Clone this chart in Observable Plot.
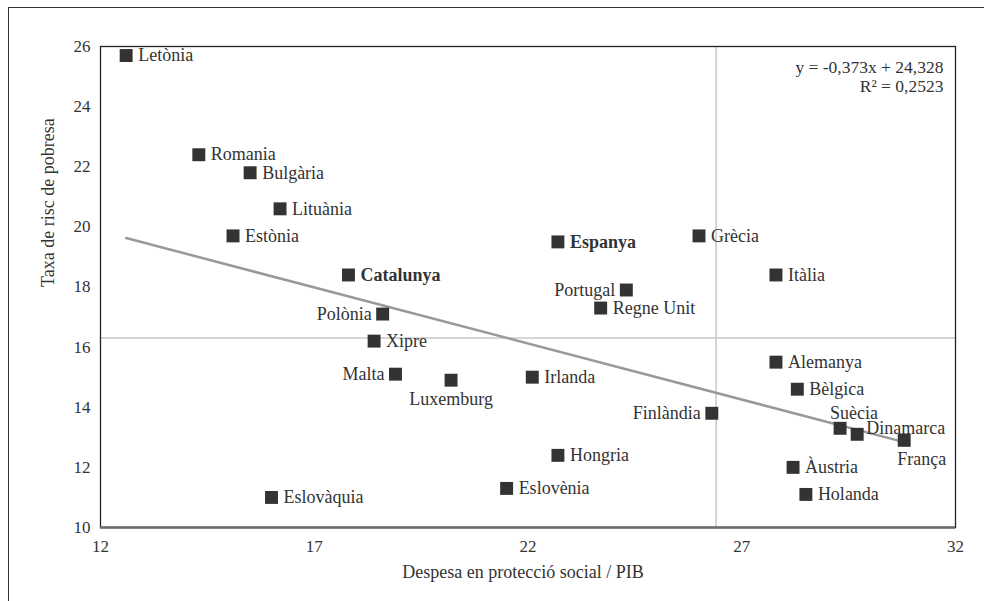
<!DOCTYPE html>
<html>
<head>
<meta charset="utf-8">
<script src="https://cdn.jsdelivr.net/npm/d3@7"></script>
<script src="https://cdn.jsdelivr.net/npm/@observablehq/plot@0.6"></script>
<style>
  html, body { margin: 0; padding: 0; background: #fff; overflow: hidden; }
  #wrap { position: relative; width: 984px; height: 601px; font-family: "Liberation Serif", serif; }
  #wrap svg, #wrap svg text, #wrap svg tspan { font-family: "Liberation Serif", serif !important; }
  #border { position: absolute; left: 8px; top: 7px; width: 2000px; height: 2000px;
            border-top: 1.5px solid #333; border-left: 1.5px solid #333; pointer-events: none; }
</style>
</head>
<body>
<div id="wrap"><div id="border"></div></div>
<script>
// ---- data ----
const countries = ["Letònia","Romania","Bulgària","Lituània","Estònia","Catalunya","Polònia","Xipre","Malta","Luxemburg","Irlanda","Espanya","Portugal","Regne Unit","Grècia","Itàlia","Alemanya","Bèlgica","Finlàndia","Suècia","Dinamarca","França","Àustria","Holanda","Hongria","Eslovènia","Eslovàquia"];
const spending  = [12.6, 14.3, 15.5, 16.2, 15.1, 17.8, 18.6, 18.4, 18.9, 20.2, 22.1, 22.7, 24.3, 23.7, 26.0, 27.8, 27.8, 28.3, 26.3, 29.3, 29.7, 30.8, 28.2, 28.5, 22.7, 21.5, 16.0];
const poverty   = [25.7, 22.4, 21.8, 20.6, 19.7, 18.4, 17.1, 16.2, 15.1, 14.9, 15.0, 19.5, 17.9, 17.3, 19.7, 18.4, 15.5, 14.6, 13.8, 13.3, 13.1, 12.9, 12.0, 11.1, 12.4, 11.3, 11.0];
const highlighted = ["Catalunya", "Espanya"];
const meanSpending = [26.4];
const meanPoverty = [16.3];
const slope = -0.373, intercept = 24.328;
const equationLines = ["y = -0,373x + 24,328", "R² = 0,2523"];
const xTicks = [12, 17, 22, 27, 32];
const yTicks = [10, 12, 14, 16, 18, 20, 22, 24, 26];
const xLabel = "Despesa en protecció social / PIB";
const yLabel = "Taxa de risc de pobresa";

const data = countries.map((c, i) => ({name: c, x: spending[i], y: poverty[i]}));
const xMin = d3.min(spending), xMax = d3.max(spending);
const trend = [xMin, xMax].map(x => ({x, y: slope * x + intercept}));

// label placement groups
const leftSide = ["Portugal", "Polònia", "Malta", "Finlàndia"];
const special = ["Luxemburg", "Suècia", "Dinamarca", "França"];
const rightNormal = data.filter(d => !leftSide.includes(d.name) && !special.includes(d.name) && !highlighted.includes(d.name));
const rightBold = data.filter(d => highlighted.includes(d.name));
const left = data.filter(d => leftSide.includes(d.name));
const pick = n => data.filter(d => d.name === n);

const ink = "#333";
const font = "Liberation Serif, serif";

const chart = Plot.plot({
  width: 984,
  height: 601,
  marginLeft: 100,
  marginRight: 29,
  marginTop: 46,
  marginBottom: 74,
  style: {fontFamily: font, fontSize: "17px", color: ink, background: "transparent"},
  x: {domain: [12, 32], ticks: xTicks},
  y: {domain: [10, 26], ticks: yTicks},
  marks: [
    Plot.ruleX(meanSpending, {stroke: "#c8c8c8", strokeWidth: 1.5}),
    Plot.ruleY(meanPoverty, {stroke: "#c8c8c8", strokeWidth: 1.5}),
    Plot.frame({stroke: "#222", strokeWidth: 1.3}),
    Plot.ruleY([10], {stroke: "#6a6a6a", strokeWidth: 2.5}),
    Plot.axisX({ticks: xTicks, tickSize: 0, tickPadding: 12, label: null, fontSize: 17}),
    Plot.axisY({ticks: yTicks, tickSize: 0, tickPadding: 10, label: null, fontSize: 17}),
    Plot.line(trend, {x: "x", y: "y", stroke: "#999", strokeWidth: 2.5}),
    Plot.dot(data, {x: "x", y: "y", symbol: "square", r: 7.3, fill: ink, stroke: "none"}),
    Plot.text(rightNormal, {x: "x", y: "y", text: "name", dx: 12, textAnchor: "start", fill: ink, fontSize: 18}),
    Plot.text(rightBold, {x: "x", y: "y", text: "name", dx: 12, textAnchor: "start", fill: ink, fontSize: 18, fontWeight: "bold"}),
    Plot.text(left, {x: "x", y: "y", text: "name", dx: -11, textAnchor: "end", fill: ink, fontSize: 18}),
    Plot.text(pick("Luxemburg"), {x: "x", y: "y", text: "name", dy: 19, textAnchor: "middle", fill: ink, fontSize: 18}),
    Plot.text(pick("Suècia"), {x: "x", y: "y", text: "name", dx: 14, dy: -15, textAnchor: "middle", fill: ink, fontSize: 18}),
    Plot.text(pick("Dinamarca"), {x: "x", y: "y", text: "name", dx: 9, dy: -6, textAnchor: "start", fill: ink, fontSize: 18}),
    Plot.text(pick("França"), {x: "x", y: "y", text: "name", dx: -7, dy: 19, textAnchor: "start", fill: ink, fontSize: 18}),
    Plot.text([equationLines.join("\n")], {frameAnchor: "top-right", dx: -12, dy: 13, textAnchor: "end", lineAnchor: "top", lineHeight: 1.08, fill: ink, fontSize: 17.5}),
    Plot.text([xLabel], {frameAnchor: "bottom", dx: -5, dy: 50, fill: ink, fontSize: 18}),
    Plot.text([yLabel], {frameAnchor: "left", dx: -52, rotate: -90, fill: ink, fontSize: 18})
  ]
});
document.getElementById("wrap").appendChild(chart);
chart.style.position = "absolute";
chart.style.left = "0";
chart.style.top = "0";
</script>
</body>
</html>
